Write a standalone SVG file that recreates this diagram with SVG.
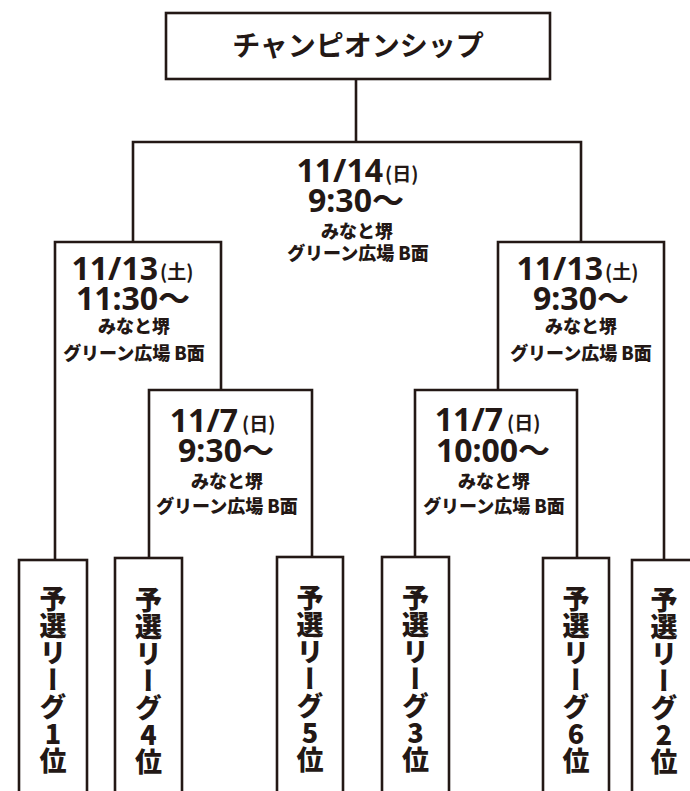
<svg xmlns="http://www.w3.org/2000/svg" width="690" height="791" viewBox="0 0 690 791">
<style>
.ln{fill:none;stroke:#231815;stroke-width:2.6;stroke-linejoin:miter}
.bx{fill:#fff;stroke:#231815;stroke-width:2.6}
.t{fill:#231815;font-family:"Noto Sans","Noto Sans CJK JP",sans-serif;font-weight:700;text-anchor:middle}
.big{font-size:32px}
.d{fill:#231815;font-family:"Noto Sans",sans-serif;font-weight:700;font-size:32px;text-anchor:end}
.par{fill:#231815;font-size:19px;font-family:"Noto Sans CJK JP",sans-serif;font-weight:700;text-anchor:start}
.loc{font-size:18px;font-family:"Noto Sans CJK JP",sans-serif;font-weight:900}
.title{font-size:28px;font-family:"Noto Sans CJK JP",sans-serif}
.v{fill:#231815;font-family:"Noto Sans CJK JP",sans-serif;font-weight:900;font-size:27px;writing-mode:vertical-rl;text-orientation:upright}
</style>
<g id="connectors">
<path class="ln" d="M356 79V142"/>
<path class="ln" d="M133 242V142H581V242"/>
<path class="ln" d="M55 560V242H221V390"/>
<path class="ln" d="M498 390V242H664V560"/>
<path class="ln" d="M149 558V390H312V557"/>
<path class="ln" d="M415 557V390H577V558"/>
</g>
<g id="champion">
<rect class="bx" x="166" y="13" width="384" height="66"/>
<text class="t title" x="358" y="56">チャンピオンシップ</text>
</g>
<g id="final">
<text class="d" x="383" y="182">11/14</text>
<text class="par" x="385" y="181">(日)</text>
<text class="t big" x="356" y="212">9:30〜</text>
<text class="t loc" x="357" y="238">みなと堺</text>
<text class="t loc" x="358" y="260">グリーン広場 B面</text>
</g>
<g id="semi-left">
<text class="d" x="158" y="280">11/13</text>
<text class="par" x="160" y="279">(土)</text>
<text class="t big" x="133" y="310">11:30〜</text>
<text class="t loc" x="134" y="333">みなと堺</text>
<text class="t loc" x="134" y="360">グリーン広場 B面</text>
</g>
<g id="semi-right">
<text class="d" x="603" y="280">11/13</text>
<text class="par" x="605" y="279">(土)</text>
<text class="t big" x="581" y="310">9:30〜</text>
<text class="t loc" x="581" y="333">みなと堺</text>
<text class="t loc" x="581" y="360">グリーン広場 B面</text>
</g>
<g id="quarter-left">
<text class="d" x="238" y="432">11/7</text>
<text class="par" x="242" y="431">(日)</text>
<text class="t big" x="226" y="462">9:30〜</text>
<text class="t loc" x="227" y="488">みなと堺</text>
<text class="t loc" x="227" y="513">グリーン広場 B面</text>
</g>
<g id="quarter-right">
<text class="d" x="503" y="431">11/7</text>
<text class="par" x="507" y="430">(日)</text>
<text class="t big" x="493" y="462">10:00〜</text>
<text class="t loc" x="494" y="488">みなと堺</text>
<text class="t loc" x="494" y="513">グリーン広場 B面</text>
</g>
<g id="league1">
<rect class="bx" x="19" y="560" width="68" height="245"/>
<text class="v" x="53" y="585">予選リーグ1位</text>
</g>
<g id="league4">
<rect class="bx" x="115" y="558" width="67" height="245"/>
<text class="v" x="148.5" y="586">予選リーグ4位</text>
</g>
<g id="league5">
<rect class="bx" x="277" y="557" width="66" height="245"/>
<text class="v" x="310" y="584">予選リーグ5位</text>
</g>
<g id="league3">
<rect class="bx" x="382" y="557" width="67" height="245"/>
<text class="v" x="415.5" y="584">予選リーグ3位</text>
</g>
<g id="league6">
<rect class="bx" x="543" y="558" width="66" height="245"/>
<text class="v" x="576" y="585">予選リーグ6位</text>
</g>
<g id="league2">
<rect class="bx" x="632" y="560" width="68" height="245"/>
<text class="v" x="664" y="586">予選リーグ2位</text>
</g>
</svg>
